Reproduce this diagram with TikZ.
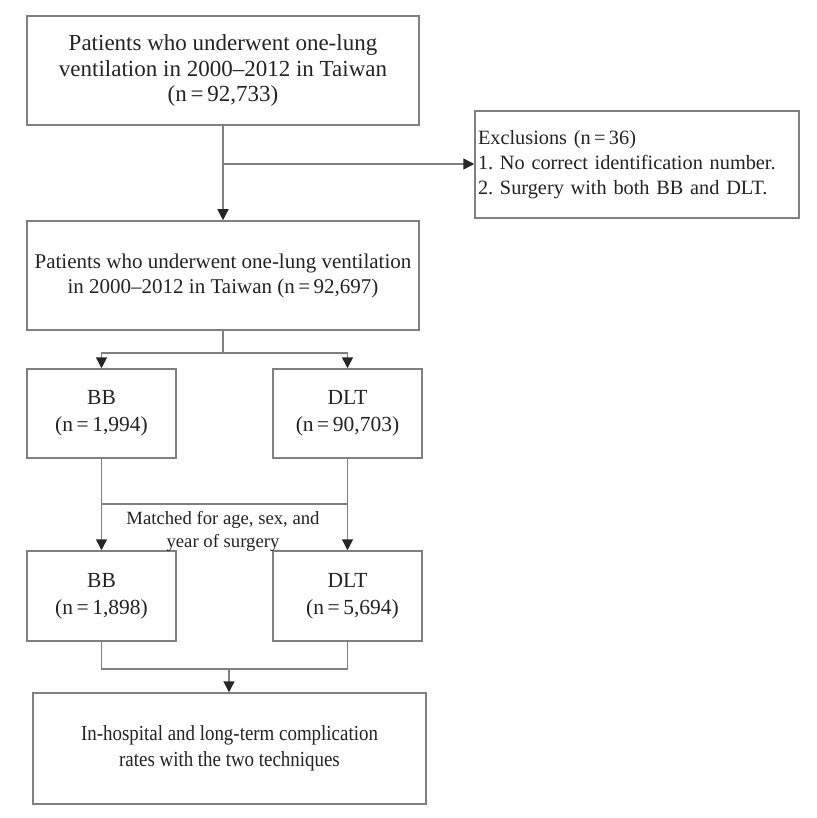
\documentclass[tikz,border=0pt]{standalone}
\usepackage{fontspec}
\setmainfont{Liberation Serif}
\newfontfamily\condfont{Liberation Serif}[FakeStretch=0.88]
\usetikzlibrary{arrows.meta}
\definecolor{linegray}{RGB}{128,128,128}
\definecolor{txt}{RGB}{35,35,35}
\tikzset{
  box/.style={draw=linegray, line width=1.5pt, text=txt, align=center, inner sep=0pt,
    font=\fontsize{21}{25}\selectfont},
  conn/.style={draw=linegray, line width=1.5pt},
  arr/.style={conn, -{Triangle[length=11pt,width=11pt,color=black!85]}},
}
\begin{document}
\frenchspacing
\begin{tikzpicture}[x=1pt,y=-1pt]
\useasboundingbox (0,0) rectangle (816,818);
\node[box, minimum width=392pt, minimum height=109pt, font=\fontsize{23}{25.5}\selectfont] (b1) at (223,70.5)
  {Patients who underwent one-lung\\ventilation in 2000--2012 in Taiwan\\(n\,=\,92,733)};
\node[box, minimum width=392pt, minimum height=109pt] (b2) at (223,275.5)
  {Patients who underwent one-lung ventilation\\in 2000--2012 in Taiwan (n\,=\,92,697)};
\node[box, minimum width=324pt, minimum height=107pt, align=left, text width=318pt,
  font=\fontsize{20.3}{25}\selectfont] (ex) at (637,164.5)
  {Exclusions (n\,=\,36)\\1. No correct identification number.\\2. Surgery with both BB and DLT.};
\node[box, minimum width=149pt, minimum height=89pt, font=\fontsize{21.5}{27}\selectfont] (bb1) at (101.5,413.5) {BB\\(n\,=\,1,994)};
\node[box, minimum width=149pt, minimum height=89pt, font=\fontsize{21.5}{27}\selectfont] (dlt1) at (347.5,413.5) {DLT\\(n\,=\,90,703)};
\node[box, minimum width=149pt, minimum height=90pt, font=\fontsize{21.5}{27}\selectfont] (bb2) at (101.5,596) {BB\\(n\,=\,1,898)};
\node[box, minimum width=149pt, minimum height=90pt, font=\fontsize{21.5}{27}\selectfont] (dlt2) at (347.5,596) {DLT\\\hspace*{10pt}(n\,=\,5,694)};
\node[box, minimum width=393pt, minimum height=111pt, font=\condfont\fontsize{21.5}{26}\selectfont] (fin) at (229.5,748.5)
  {In-hospital and long-term complication\\rates with the two techniques};
\node[text=txt, align=center, font=\fontsize{18.7}{23}\selectfont] (mt) at (223,531)
  {Matched for age, sex, and\\year of surgery};
% connectors
\draw[arr] (b1.south) -- (b2.north);
\coordinate (br) at (223,164);
\draw[arr] (br) -- (ex.west |- br);
\coordinate (sp) at (223,353);
\draw[conn] (b2.south) -- (sp);
\draw[arr] (sp) -| (bb1.north);
\draw[arr] (sp) -| (dlt1.north);
\draw[arr] (bb1.south) -- (bb2.north);
\draw[arr] (dlt1.south) -- (dlt2.north);
\coordinate (mj) at (223,504);
\draw[conn] (bb1.south |- mj) -- (dlt1.south |- mj);
\coordinate (jn) at (229,669);
\draw[conn] (bb2.south) |- (jn) -| (dlt2.south);
\draw[arr] (jn) -- (fin.north -| jn);
\end{tikzpicture}
\end{document}
